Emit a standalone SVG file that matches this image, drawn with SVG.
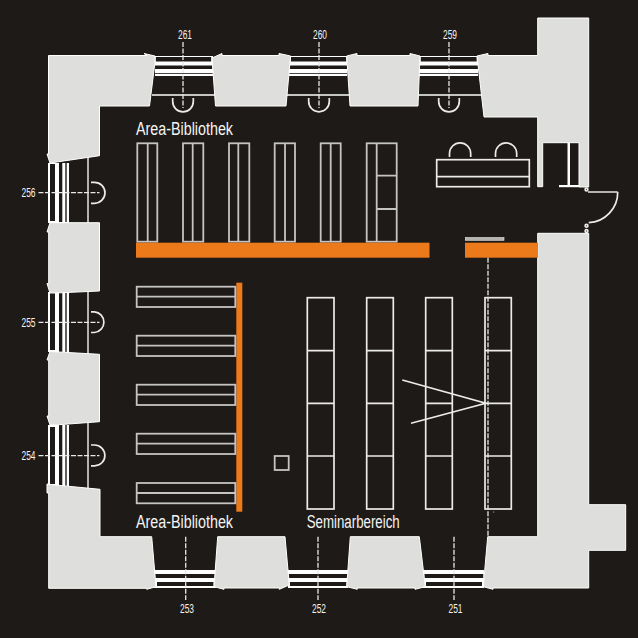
<svg xmlns="http://www.w3.org/2000/svg" width="638" height="638" viewBox="0 0 638 638">
<style>
.w{fill:#dededc;stroke:#fff;stroke-width:1}
.l{fill:none;stroke:#ebebe9;stroke-width:1.7}
.g{fill:none;stroke:#c4c4c2;stroke-width:1.8}
.b{fill:#fff}
.d{fill:#1e1a18}
.o{fill:#ec7a1a}
.da{fill:none;stroke:#e8e8e6;stroke-width:1.3;stroke-dasharray:5 1.5}
.t{font-family:"Liberation Sans",Arial,sans-serif;fill:#f4f4f2}
.n{font-size:13px;text-anchor:middle}
.a{font-size:18px}
</style>
<rect width="638" height="638" fill="#1e1a18"/>

<g id="windows-top">
<g id="w261"><rect class="b" x="155" y="56" width="58" height="20"/><rect class="d" x="155.7" y="57" width="55.5" height="4.5"/><rect class="d" x="153.5" y="65.5" width="59" height="3.5"/><rect class="d" x="153" y="73" width="60" height="0.8"/><path class="g" d="M152 95H215"/></g>
<g id="w260"><rect class="b" x="289" y="56" width="58" height="20"/><rect class="d" x="290.7" y="57" width="55.5" height="4.5"/><rect class="d" x="288.5" y="65.5" width="59" height="3.5"/><rect class="d" x="288" y="73" width="60" height="0.8"/><path class="g" d="M286 95H350"/></g>
<g id="w259"><rect class="b" x="419" y="56" width="59" height="20"/><rect class="d" x="420.7" y="57" width="56" height="4.5"/><rect class="d" x="419" y="65.5" width="59" height="3.5"/><rect class="d" x="419" y="73" width="60" height="0.8"/><path class="g" d="M418 95H482"/></g>
</g>

<g id="windows-bottom">
<g id="w253"><rect class="b" x="154" y="570" width="62" height="18"/><rect class="d" x="155" y="574" width="60" height="4"/><rect class="d" x="157" y="582" width="56.5" height="4"/></g>
<g id="w252"><rect class="b" x="288" y="570" width="60" height="18"/><rect class="d" x="288.5" y="574" width="59.5" height="4"/><rect class="d" x="290" y="582" width="56.5" height="4"/></g>
<g id="w251"><rect class="b" x="423" y="570" width="61" height="18"/><rect class="d" x="424.3" y="574" width="59" height="4"/><rect class="d" x="426" y="582" width="56" height="4"/></g>
</g>

<g id="windows-left">
<g id="w256"><rect class="b" x="48" y="163" width="21" height="60"/><rect class="d" x="50" y="164" width="5" height="57"/><rect class="d" x="59" y="163" width="3.3" height="59"/><rect class="d" x="65.3" y="163" width="1.4" height="59"/><path class="g" d="M88 157V223"/></g>
<g id="w255"><rect class="b" x="48" y="292" width="21" height="60"/><rect class="d" x="50" y="293" width="5" height="57"/><rect class="d" x="59" y="292" width="3.3" height="60"/><rect class="d" x="65.3" y="292" width="1.4" height="60"/><path class="g" d="M88 291V354"/></g>
<g id="w254"><rect class="b" x="48" y="425" width="21" height="61"/><rect class="d" x="50" y="427" width="5" height="57"/><rect class="d" x="59" y="425" width="3.3" height="61"/><rect class="d" x="65.3" y="425" width="1.4" height="61"/><path class="g" d="M88 423V489"/></g>
</g>

<g id="walls">
<path class="w" d="M48.5 55.5H147L144 53.5L155 56L155 62L149.5 106H99.5V155.7L50 163L47 154H48.5Z"/>
<path class="w" d="M212 58L222 53.5V55.5H279V53.5L290.6 56L286 106H215.5Z"/>
<path class="w" d="M346.7 56L357 53.5V55.5H410V53.5L420 56L418 106H350Z"/>
<path class="w" d="M477 56L488 53.5V55.5H537.7V18H588.7V187H579V142.7H542.7V186.7H537.7V117H484Z"/>
<path class="w" d="M50 222.7H99.5V291L55 293H50L47 283.5H48.7V232H47Z"/>
<path class="w" d="M50 351.5L99.5 354.3V421.7L55 425H50L47 416H48.7V360H47Z"/>
<path class="w" d="M47 484L55 485L100 489.3V536.7H151.7L156 586.7L146.7 589.3V588.3H48.7V493H47Z"/>
<path class="w" d="M217.7 536.7H285L289.3 585L279.3 589.3V588H224V589.3L214 586.7Z"/>
<path class="w" d="M350.3 536.7H419.3L425.3 586.7L415 589.3V588H357.3V589.3L346.7 586.7Z"/>
<path class="w" d="M487.7 536.7H537.7V233.3H588.7V504.7H625.7V550.3H588.7V588H493V589.3L483.3 586.7Z"/>
</g>

<g id="door">
<rect class="b" x="567.5" y="142.7" width="2.5" height="43"/>
<rect class="b" x="559" y="185" width="20" height="2.2"/>
<path class="g" d="M588 192H617.7"/>
<path class="l" d="M617.7 192C618 208 605 222 588.7 222.7"/>
<circle class="l" cx="586.5" cy="189.5" r="1.4"/>
<circle class="l" cx="586.5" cy="225.7" r="1.4"/>
<circle class="l" cx="586.5" cy="231" r="1.4"/>
</g>

<g id="shelves-top" class="g">
<rect x="137.3" y="143.3" width="20" height="98.4"/><path d="M147.7 143.3V241.7"/>
<rect x="183" y="143.3" width="20.3" height="98.4"/><path d="M192.7 143.3V241.7"/>
<rect x="229" y="143.3" width="20.3" height="98.4"/><path d="M238.3 143.3V241.7"/>
<rect x="274.7" y="143.3" width="20.3" height="98.4"/><path d="M285 143.3V241.7"/>
<rect x="320.7" y="143.3" width="20" height="98.4"/><path d="M330.7 143.3V241.7"/>
<rect x="366.7" y="143.3" width="30" height="98.4"/><path d="M376.7 143.3V241.7M376.7 175.7H396.7M376.7 209H396.7"/>
</g>

<g id="desk" class="l">
<rect x="436.7" y="159.7" width="92.6" height="27"/><path d="M436.7 176.7H529.3"/>
<path d="M449.5 157V153.5A10.6 10.6 0 0 1 470.7 153.5V157"/>
<path d="M495.5 157V153.5A10.6 10.6 0 0 1 516.7 153.5V157"/>
</g>

<g id="orange">
<rect class="o" x="136" y="242.7" width="293.5" height="15"/>
<rect class="o" x="465" y="242.7" width="73" height="15"/>
<rect class="o" x="236.3" y="282.7" width="6" height="229"/>
</g>
<rect x="465.3" y="237.5" width="38.7" height="2.8" fill="#b4b4b2" stroke="#e6e6e4" stroke-width=".6"/>

<g id="shelves-left" class="g">
<rect x="136.7" y="286.7" width="98.6" height="20.3"/><path d="M136.7 296.7H235.3"/>
<rect x="136.7" y="335.7" width="98.6" height="20.3"/><path d="M136.7 345.7H235.3"/>
<rect x="136.7" y="384.7" width="98.6" height="20.3"/><path d="M136.7 394.7H235.3"/>
<rect x="136.7" y="433.7" width="98.6" height="20.3"/><path d="M136.7 443.7H235.3"/>
<rect x="136.7" y="483" width="98.6" height="20.3"/><path d="M136.7 493H235.3"/>
</g>
<rect class="g" x="274.7" y="456" width="14" height="14"/>

<g id="shelves-seminar" class="l">
<rect x="307.3" y="297.7" width="26.7" height="211.3"/><path d="M307.3 350.7H334M307.3 403.3H334M307.3 456H334"/>
<rect x="366.7" y="297.7" width="26.6" height="211.3"/><path d="M366.7 350.7H393.3M366.7 403.3H393.3M366.7 456H393.3"/>
<rect x="425.7" y="297.7" width="26.6" height="211.3"/><path d="M425.7 350.7H452.3M425.7 403.3H452.3M425.7 456H452.3"/>
<rect x="485" y="297.7" width="26.3" height="211.3"/><path d="M485 350.7H511.3M485 403.3H511.3M485 456H511.3"/>
</g>
<path class="l" d="M402.3 380L485.7 403.3L411 423.3"/>
<rect x="493.3" y="511.6" width=".9" height=".9" fill="#e6e6e4"/>

<g id="axes" class="da">
<path d="M183 42V108"/><path d="M319 42V108"/><path d="M449 42V108"/>
<path d="M38.5 192.7H99.5"/><path d="M38.5 322.3H99.5"/><path d="M38.5 455.7H99.5"/>
<path d="M185.7 536.7V600"/><path d="M318 536.7V600"/><path d="M454 536.7V600"/>
<path d="M488 257.7V536.7"/>
</g>
<g id="arcs" class="l">
<path d="M172.7 98V101.5A10.3 10.3 0 0 0 193.3 101.5V98"/>
<path d="M308.7 98V101.5A10.3 10.3 0 0 0 329.3 101.5V98"/>
<path d="M438.7 98V101.5A10.3 10.3 0 0 0 459.3 101.5V98"/>
<path d="M91 182.3H94.5A10.5 10.5 0 0 1 94.5 203.3H91"/>
<path d="M91 311.8H94.5A10.4 10.4 0 0 1 94.5 332.5H91"/>
<path d="M91 445H94.5A10.4 10.4 0 0 1 94.5 465.8H91"/>
</g>

<g id="labels" class="t">
<text class="a" x="136" y="135" textLength="97" lengthAdjust="spacingAndGlyphs">Area-Bibliothek</text>
<text class="a" x="136" y="528.3" textLength="97" lengthAdjust="spacingAndGlyphs">Area-Bibliothek</text>
<text class="a" x="306.7" y="528.3" textLength="93" lengthAdjust="spacingAndGlyphs">Seminarbereich</text>
<text class="n" x="185" y="39.3" textLength="14" lengthAdjust="spacingAndGlyphs">261</text>
<text class="n" x="320" y="39.3" textLength="14" lengthAdjust="spacingAndGlyphs">260</text>
<text class="n" x="450" y="39.3" textLength="14" lengthAdjust="spacingAndGlyphs">259</text>
<text class="n" x="28.5" y="196.5" textLength="14" lengthAdjust="spacingAndGlyphs">256</text>
<text class="n" x="28.5" y="326.5" textLength="14" lengthAdjust="spacingAndGlyphs">255</text>
<text class="n" x="28.5" y="459.5" textLength="14" lengthAdjust="spacingAndGlyphs">254</text>
<text class="n" x="187" y="612.5" textLength="14" lengthAdjust="spacingAndGlyphs">253</text>
<text class="n" x="319" y="612.5" textLength="14" lengthAdjust="spacingAndGlyphs">252</text>
<text class="n" x="455.5" y="612.5" textLength="14" lengthAdjust="spacingAndGlyphs">251</text>
</g>
</svg>
